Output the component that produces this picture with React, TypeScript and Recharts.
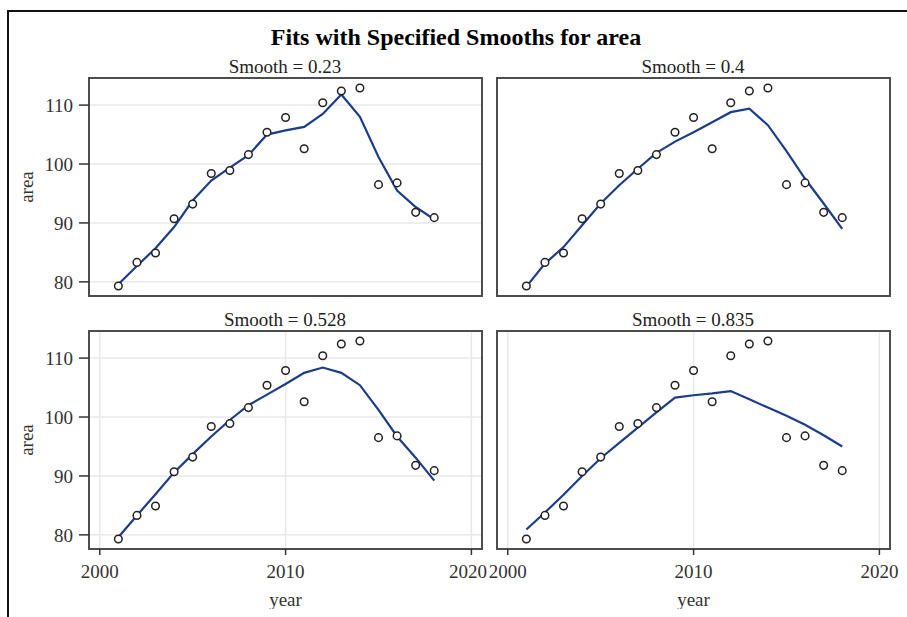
import React from "react";
import {
  ComposedChart,
  Line,
  Scatter,
  XAxis,
  YAxis,
  CartesianGrid,
  ReferenceArea,
} from "recharts";

const years = [2001, 2002, 2003, 2004, 2005, 2006, 2007, 2008, 2009, 2010, 2011, 2012, 2013, 2014, 2015, 2016, 2017, 2018];
const area = [79.3, 83.3, 84.9, 90.7, 93.2, 98.4, 98.9, 101.6, 105.4, 107.9, 102.6, 110.4, 112.4, 112.9, 96.5, 96.8, 91.8, 90.9];

const fit023 = [79.6, 82.7, 85.7, 89.3, 93.8, 97.2, 99.4, 101.5, 105.0, 105.7, 106.3, 108.5, 111.8, 108.0, 101.2, 95.5, 92.7, 90.6];
const fit04 = [79.2, 83.1, 85.9, 89.6, 93.3, 96.4, 99.2, 101.9, 103.8, 105.4, 107.1, 108.8, 109.4, 106.6, 102.2, 97.5, 93.3, 89.0];
const fit0528 = [79.6, 83.3, 86.9, 90.6, 93.7, 96.7, 99.5, 102.0, 103.8, 105.6, 107.5, 108.4, 107.5, 105.4, 101.2, 96.7, 93.1, 89.2];
const fit0835 = [80.9, 83.8, 86.8, 90.0, 93.0, 95.6, 98.2, 100.8, 103.3, 103.7, 104.0, 104.4, 103.0, 101.6, 100.2, 98.7, 96.9, 95.0];

const xTicks = [2000, 2010, 2020];
const yTicks = [80, 90, 100, 110];
const xDomain: [number, number] = [1999.42, 2020.57];
const yDomain: [number, number] = [77.6, 114.6];

const FONT = "'Liberation Serif', 'DejaVu Serif', serif";
const tickStyle = { fontSize: 19, fill: "#333", fontFamily: FONT };

const Circle = (props: any) => (
  <circle cx={props.cx} cy={props.cy} r={3.8} fill="#fff" stroke="#222" strokeWidth={1.5} />
);

interface PanelProps {
  fit: number[];
  showY: boolean;
  showX: boolean;
  left: number;
  top: number;
}

function Panel({ fit, showY, showX, left, top }: PanelProps) {
  const data = years.map((y, i) => ({ year: y, area: area[i], fit: fit[i] }));
  const width = showY ? 487 : 420;
  const height = showX ? 296 : 241;
  return (
    <div style={{ position: "absolute", left, top }}>
      <ComposedChart
        width={width}
        height={height}
        data={data}
        margin={{ top: 18, right: showY ? 5 : 17, bottom: showX ? 0 : 5, left: showY ? 0 : 10 }}
      >
        <CartesianGrid stroke="#e8e8e8" strokeWidth={1.5} />
        <XAxis
          dataKey="year"
          type="number"
          domain={xDomain}
          ticks={xTicks}
          allowDataOverflow
          height={showX ? 60 : 0}
          tick={showX ? tickStyle : false}
          tickLine={showX ? { stroke: "#333", strokeWidth: 1.5 } : false}
          tickSize={6}
          tickMargin={10}
          axisLine={false}
          label={showX ? { value: "year", position: "insideBottom", offset: 3, style: tickStyle } : undefined}
        />
        <YAxis
          type="number"
          domain={yDomain}
          ticks={yTicks}
          allowDataOverflow
          width={showY ? 89 : 0}
          tick={showY ? tickStyle : false}
          tickLine={showY ? { stroke: "#333", strokeWidth: 1.5 } : false}
          tickSize={10}
          tickMargin={6}
          axisLine={false}
          label={
            showY
              ? { value: "area", angle: -90, position: "insideLeft", offset: 26, style: { ...tickStyle, textAnchor: "middle" } }
              : undefined
          }
        />
        <ReferenceArea
          x1={xDomain[0]}
          x2={xDomain[1]}
          y1={yDomain[0]}
          y2={yDomain[1]}
          fill="none"
          stroke="#4d4d4d"
          strokeWidth={2}
          ifOverflow="visible"
        />
        <Line
          dataKey="fit"
          stroke="#1c3d8c"
          strokeWidth={2.2}
          dot={false}
          isAnimationActive={false}
        />
        <Scatter dataKey="area" shape={Circle} isAnimationActive={false} />
      </ComposedChart>
    </div>
  );
}

const headStyle: React.CSSProperties = {
  position: "absolute",
  fontFamily: FONT,
  fontSize: 19,
  color: "#222",
  textAlign: "center",
  width: 300,
  lineHeight: "20px",
};

export default function App() {
  return (
    <div style={{ position: "absolute", left: 0, top: 0, width: 907, height: 617, background: "#fff", overflow: "hidden" }}>
      <div
        style={{
          position: "absolute",
          left: 7,
          top: 10,
          width: 920,
          height: 620,
          borderLeft: "2px solid #111",
          borderTop: "2px solid #111",
        }}
      />
      <div
        style={{
          position: "absolute",
          left: 156,
          top: 23,
          width: 600,
          textAlign: "center",
          fontFamily: FONT,
          fontWeight: "bold",
          fontSize: 24,
          lineHeight: "28px",
          color: "#000",
        }}
      >
        Fits with Specified Smooths for area
      </div>
      <div style={{ ...headStyle, left: 135, top: 57 }}>Smooth = 0.23</div>
      <div style={{ ...headStyle, left: 543, top: 57 }}>Smooth = 0.4</div>
      <div style={{ ...headStyle, left: 135, top: 310 }}>Smooth = 0.528</div>
      <div style={{ ...headStyle, left: 543, top: 310 }}>Smooth = 0.835</div>
      <Panel fit={fit023} showY showX={false} left={0} top={60} />
      <Panel fit={fit04} showY={false} showX={false} left={487} top={60} />
      <Panel fit={fit0528} showY showX left={0} top={313} />
      <Panel fit={fit0835} showY={false} showX left={487} top={313} />
    </div>
  );
}
